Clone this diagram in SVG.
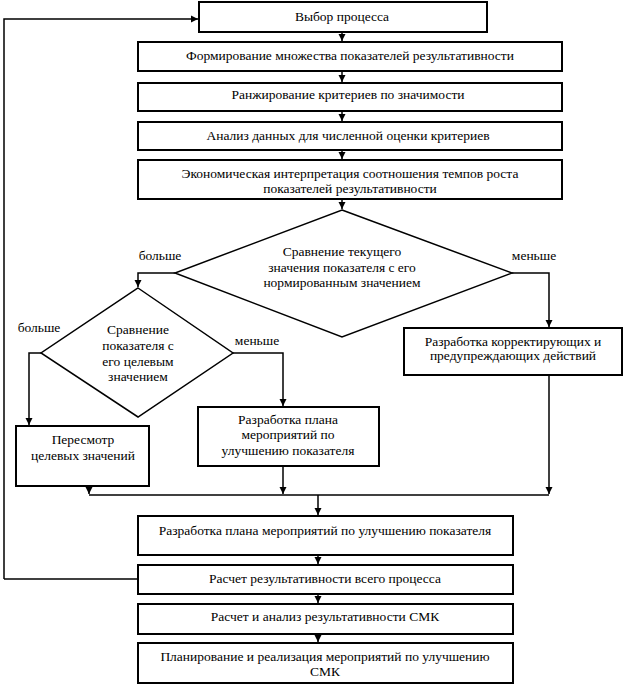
<svg xmlns="http://www.w3.org/2000/svg" width="624" height="685" viewBox="0 0 624 685">
<defs>
<marker id="ah" viewBox="0 0 10 10" refX="10" refY="5" markerWidth="7" markerHeight="8" markerUnits="userSpaceOnUse" orient="auto">
<path d="M0,0 L10,5 L0,10 z" fill="#000"/>
</marker>
<style>
.box{fill:#fff;stroke:#000;stroke-width:2}
.dia{fill:#fff;stroke:#000;stroke-width:1.5}
.t{font-family:'Liberation Serif','Times New Roman','DejaVu Serif',serif;font-size:13.5px;fill:#000;text-anchor:middle}
.c{fill:none;stroke:#000;stroke-width:1.5}
.a{marker-end:url(#ah)}
</style>
</defs>
<rect width="624" height="685" fill="#fff"/>
<g id="connectors">
<path class="c a" d="M4,579 L4,19 L198,19"/>
<path class="c a" d="M342,32 L342,41"/>
<path class="c a" d="M342,71 L342,82"/>
<path class="c a" d="M342,111 L342,121"/>
<path class="c a" d="M342,150 L342,159"/>
<path class="c a" d="M342,199 L342,209"/>
<path class="c a" d="M175,273 L138,273 L138,287"/>
<path class="c a" d="M512,273 L549,273 L549,327"/>
<path class="c a" d="M41,353 L29,353 L29,425"/>
<path class="c a" d="M233,353 L283,353 L283,406"/>
<path class="c" d="M89,495 L549,495"/>
<path class="c a" d="M89,486 L89,494"/>
<path class="c a" d="M283,466 L283,494"/>
<path class="c a" d="M549,375 L549,494"/>
<path class="c a" d="M318,495 L318,515"/>
<path class="c a" d="M318,555 L318,564"/>
<path class="c a" d="M318,594 L318,603"/>
<path class="c a" d="M318,634 L318,642"/>
<path class="c" d="M138,579 L4,579"/>
</g>
<g id="n1"><rect class="box" x="199" y="2" width="288" height="30"/><text class="t" x="342" y="21">Выбор процесса</text></g>
<g id="n2"><rect class="box" x="138" y="42" width="424" height="29"/><text class="t" x="350" y="60">Формирование множества показателей результативности</text></g>
<g id="n3"><rect class="box" x="138" y="83" width="424" height="28"/><text class="t" x="348" y="99">Ранжирование критериев по значимости</text></g>
<g id="n4"><rect class="box" x="138" y="122" width="424" height="28"/><text class="t" x="348" y="140">Анализ данных для численной оценки критериев</text></g>
<g id="n5"><rect class="box" x="138" y="160" width="424" height="39"/><text class="t" x="350" y="178">Экономическая интерпретация соотношения темпов роста</text><text class="t" x="350" y="193">показателей результативности</text></g>
<g id="d1"><polygon class="dia" points="342,210 512,273 342,337 175,273"/><text class="t" x="342" y="256">Сравнение текущего</text><text class="t" x="342" y="272">значения показателя с его</text><text class="t" x="342" y="287">нормированным значением</text></g>
<g id="d2"><polygon class="dia" points="138,288 233,353 138,417 41,353"/><text class="t" x="138" y="334">Сравнение</text><text class="t" x="138" y="350">показателя с</text><text class="t" x="138" y="366">его целевым</text><text class="t" x="138" y="381">значением</text></g>
<g id="n6"><rect class="box" x="404" y="328" width="218" height="47"/><text class="t" x="513" y="346">Разработка корректирующих и</text><text class="t" x="513" y="360">предупреждающих действий</text></g>
<g id="n7"><rect class="box" x="16" y="426" width="133" height="60"/><text class="t" x="83" y="444">Пересмотр</text><text class="t" x="83" y="460">целевых значений</text></g>
<g id="n8"><rect class="box" x="198" y="407" width="181" height="59"/><text class="t" x="288" y="424">Разработка плана</text><text class="t" x="288" y="439">мероприятий по</text><text class="t" x="288" y="455">улучшению показателя</text></g>
<g id="n9"><rect class="box" x="138" y="516" width="375" height="39"/><text class="t" x="325" y="535">Разработка плана мероприятий по улучшению показателя</text></g>
<g id="n10"><rect class="box" x="138" y="565" width="375" height="29"/><text class="t" x="325" y="583">Расчет результативности всего процесса</text></g>
<g id="n11"><rect class="box" x="138" y="604" width="375" height="30"/><text class="t" x="325" y="621">Расчет и анализ результативности СМК</text></g>
<g id="n12"><rect class="box" x="138" y="643" width="375" height="40"/><text class="t" x="325" y="661">Планирование и реализация мероприятий по улучшению</text><text class="t" x="325" y="676">СМК</text></g>
<g id="labels">
<text class="t" x="160" y="260">больше</text>
<text class="t" x="534" y="260">меньше</text>
<text class="t" x="39" y="332">больше</text>
<text class="t" x="257" y="345">меньше</text>
</g>
</svg>
